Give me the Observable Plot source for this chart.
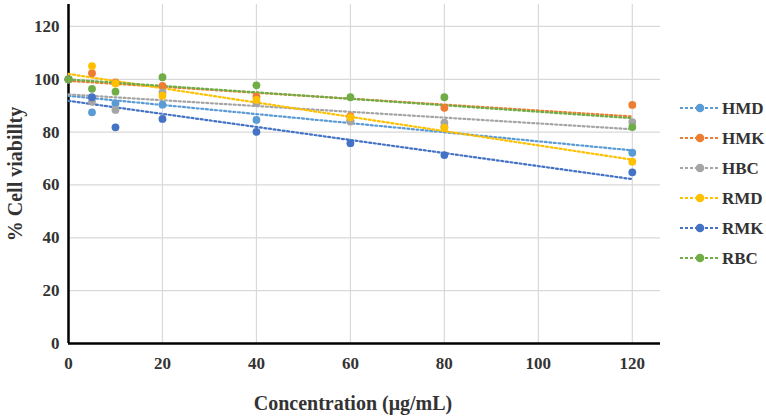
<!DOCTYPE html>
<html>
<head>
<meta charset="utf-8">
<script src="https://cdn.jsdelivr.net/npm/d3@7"></script>
<script src="https://cdn.jsdelivr.net/npm/@observablehq/plot@0.6"></script>
<style>
  html, body { margin: 0; padding: 0; background: #fff; }
  #chart svg { display: block; }
</style>
</head>
<body>
<div id="chart"></div>
<script>
// ---- data ----
const categories = ["HMD", "HMK", "HBC", "RMD", "RMK", "RBC"];
const colors = ["#5B9BD5", "#ED7D31", "#A5A5A5", "#FFC000", "#4472C4", "#70AD47"];
const concentrations = [0, 5, 10, 20, 40, 60, 80, 120];
const HMD = [100, 87.5, 90.9, 90.4, 84.6, 84.5, 82.0, 72.2];
const HMK = [100, 102.3, 98.8, 97.5, 93.4, 86.0, 89.2, 90.3];
const HBC = [100, 91.5, 88.4, 95.0, 91.0, 84.0, 83.6, 83.8];
const RMD = [100, 105.0, 98.4, 93.8, 92.2, 85.6, 81.7, 68.8];
const RMK = [100, 93.2, 81.8, 85.0, 80.1, 75.8, 71.3, 64.8];
const RBC = [100, 96.4, 95.3, 100.8, 97.7, 93.2, 93.2, 81.9];
const xTicks = [0, 20, 40, 60, 80, 100, 120];
const yTicks = [0, 20, 40, 60, 80, 100, 120];
const xTitle = "Concentration (μg/mL)";
const yTitle = "% Cell viabillty";

const seriesValues = [HMD, HMK, HBC, RMD, RMK, RBC];
const data = categories.flatMap((s, i) =>
  concentrations.map((c, j) => ({series: s, x: c, y: seriesValues[i][j]}))
);

// least-squares trend line endpoints for each series (from the data above)
const xExtent = d3.extent(concentrations);
const trend = categories.flatMap((s, i) => {
  const ys = seriesValues[i];
  const mx = d3.mean(concentrations), my = d3.mean(ys);
  const sxy = d3.sum(concentrations, (x, j) => (x - mx) * (ys[j] - my));
  const sxx = d3.sum(concentrations, x => (x - mx) ** 2);
  const b = sxy / sxx, a = my - b * mx;
  return xExtent.map(x => ({series: s, x, y: a + b * x}));
});

const FONT = "'Liberation Serif', 'Times New Roman', serif";
const TEXT = "#333333";

const chart = Plot.plot({
  width: 766,
  height: 417,
  marginLeft: 68,
  marginRight: 106,
  marginTop: 4,
  marginBottom: 74,
  style: {fontFamily: FONT, background: "#fff", color: TEXT},
  x: {domain: [0, 126]},
  y: {domain: [0, 128.3]},
  color: {domain: categories, range: colors},
  marks: [
    Plot.gridX(xTicks, {stroke: "#d9d9d9", strokeOpacity: 1, strokeWidth: 1.2}),
    Plot.gridY(yTicks, {stroke: "#d9d9d9", strokeOpacity: 1, strokeWidth: 1.2}),
    Plot.axisX(xTicks, {tickSize: 0, tickPadding: 13, fontSize: 17, fontWeight: "bold", fill: TEXT, label: null}),
    Plot.axisY(yTicks, {tickSize: 0, tickPadding: 9, fontSize: 17, fontWeight: "bold", fill: TEXT, label: null}),
    Plot.ruleX([0], {stroke: "#000", strokeWidth: 2.5}),
    Plot.ruleY([0], {stroke: "#000", strokeWidth: 2.5}),
    Plot.line(trend, {
      x: "x", y: "y", stroke: "series", z: "series",
      strokeWidth: 2.2, strokeDasharray: "2,2.6"
    }),
    Plot.dot(data, {x: "x", y: "y", fill: "series", r: 3.9})
  ]
});

document.getElementById("chart").appendChild(chart);

const svg = d3.select(chart);

// axis titles
svg.append("text")
  .attr("x", 353).attr("y", 410)
  .attr("text-anchor", "middle")
  .attr("font-family", FONT).attr("font-weight", "bold").attr("font-size", 20)
  .attr("fill", TEXT)
  .text(xTitle);

svg.append("text")
  .attr("transform", "translate(22,174) rotate(-90)")
  .attr("text-anchor", "middle")
  .attr("font-family", FONT).attr("font-weight", "bold").attr("font-size", 20)
  .attr("fill", TEXT)
  .text(yTitle);

// legend
const legend = svg.append("g");
categories.forEach((name, i) => {
  const y = 108 + i * 30;
  const g = legend.append("g").attr("transform", `translate(0,${y})`);
  g.append("line").attr("x1", 680).attr("x2", 719).attr("y1", 0).attr("y2", 0)
    .attr("stroke", colors[i]).attr("stroke-width", 2.2).attr("stroke-dasharray", "3,2");
  g.append("circle").attr("cx", 700).attr("cy", 0).attr("r", 4.3).attr("fill", colors[i]);
  g.append("text").attr("x", 722).attr("y", 6)
    .attr("text-anchor", "start")
    .attr("font-family", FONT).attr("font-weight", "bold").attr("font-size", 17)
    .attr("fill", TEXT).text(name);
});
</script>
</body>
</html>
